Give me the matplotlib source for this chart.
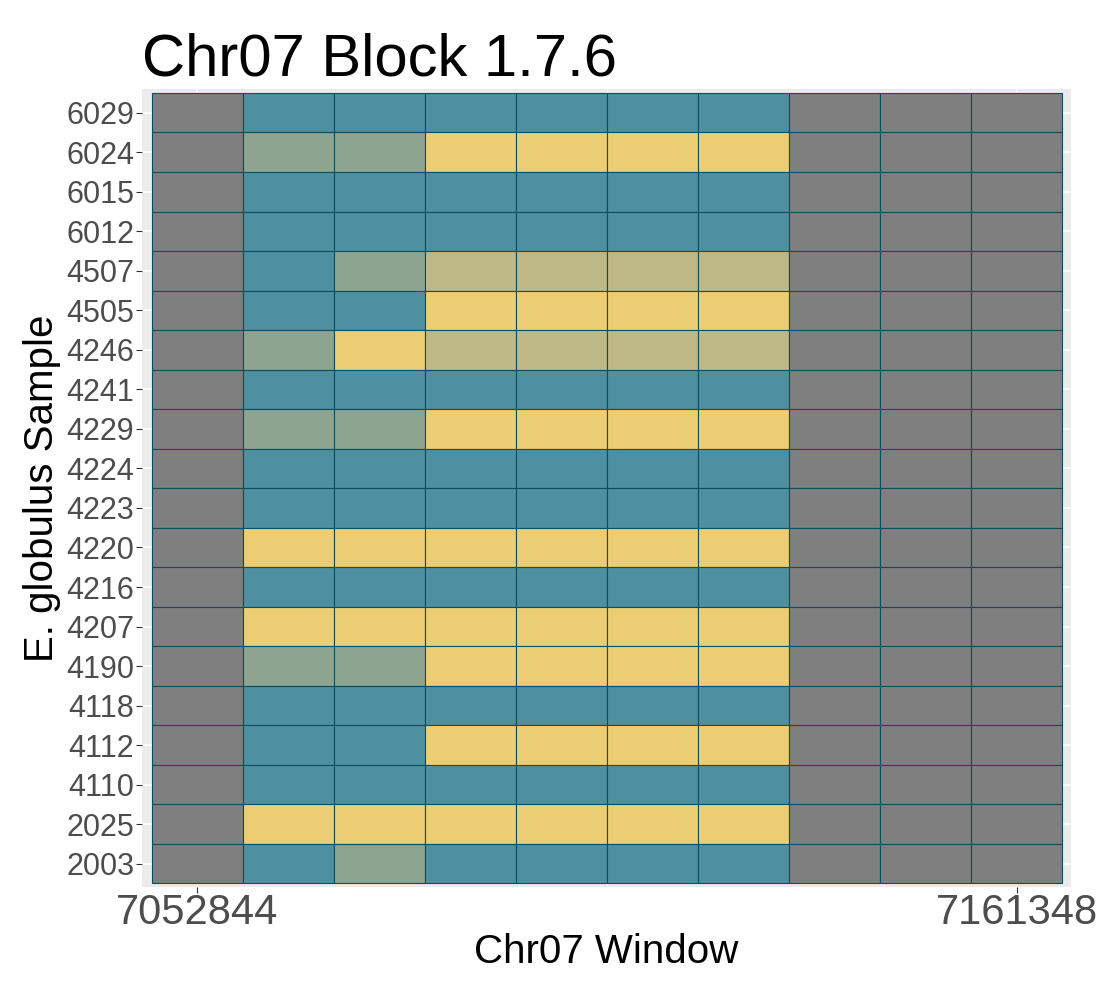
import matplotlib
matplotlib.use("Agg")
import matplotlib.pyplot as plt

plt.rcParams['font.family'] = ['Liberation Sans', 'DejaVu Sans']

# ---- data ----
samples = ['6029', '6024', '6015', '6012', '4507', '4505', '4246', '4241', '4229', '4224',
           '4223', '4220', '4216', '4207', '4190', '4118', '4112', '4110', '2025', '2003']
windows = [7052844, 7064900, 7076956, 7089012, 7101068, 7113124, 7125180, 7137236, 7149292, 7161348]
window_width = 12056
x_ticks = [7052844, 7161348]

# state codes per sample (one per window): N = no data, T, S, K, Y
states = [
    'NTTTTTTNNN',
    'NSSYYYYNNN',
    'NTTTTTTNNN',
    'NTTTTTTNNN',
    'NTSKKKKNNN',
    'NTTYYYYNNN',
    'NSYKKKKNNN',
    'NTTTTTTNNN',
    'NSSYYYYNNN',
    'NTTTTTTNNN',
    'NTTTTTTNNN',
    'NYYYYYYNNN',
    'NTTTTTTNNN',
    'NYYYYYYNNN',
    'NSSYYYYNNN',
    'NTTTTTTNNN',
    'NTTYYYYNNN',
    'NTTTTTTNNN',
    'NYYYYYYNNN',
    'NTSTTTTNNN',
]
state_colors = {'N': '#7F7F7F', 'T': '#4E90A0', 'S': '#8DA491', 'K': '#BDB886', 'Y': '#EBCD73'}

# ---- figure ----
fig = plt.figure(figsize=(11, 10), dpi=100)
ax = fig.add_axes([0.129, 0.113, 0.845, 0.798])
ax.set_facecolor('#EBEBEB')

ax.set_axisbelow(True)
for yi in range(len(samples)):
    ax.axhline(yi, color='white', lw=1.1, zorder=0)
for xt in x_ticks:
    ax.axvline(xt, color='white', lw=1.1, zorder=0)
ax.axvline((x_ticks[0] + x_ticks[1]) / 2, color='white', lw=0.55, zorder=0)

for i, (s, row) in enumerate(zip(samples, states)):
    for xw, code in zip(windows, row):
        ax.barh(i, window_width, left=xw - window_width / 2, height=1.0,
                color=state_colors[code], edgecolor='#0B4F5F', linewidth=0.8, zorder=2)

ax.set_xlim(windows[0] - window_width / 2 - 1330, windows[-1] + window_width / 2 + 1190)
ax.set_ylim(len(samples) - 0.5 + 0.09, -0.5 - 0.1)

ax.set_yticks(range(len(samples)))
ax.set_yticklabels(samples)
ax.set_xticks(x_ticks)
ax.set_xticklabels([str(v) for v in x_ticks])

ax.tick_params(axis='y', labelsize=22, labelcolor='#4D4D4D', color='#333333', length=4, width=0.8, pad=1.5)
ax.tick_params(axis='x', labelsize=30, labelcolor='#4D4D4D', color='#333333', length=4, width=0.8, pad=0)
for sp in ax.spines.values():
    sp.set_visible(False)

ax.set_xlabel('Chr07 Window', fontsize=29, color='black', labelpad=0)
ax.set_ylabel('E. globulus Sample', fontsize=29, color='black', labelpad=4)
ax.set_title('Chr07 Block 1.7.6', fontsize=43, loc='left', x=0.0, pad=10)

fig.savefig('out.png', dpi=100)
